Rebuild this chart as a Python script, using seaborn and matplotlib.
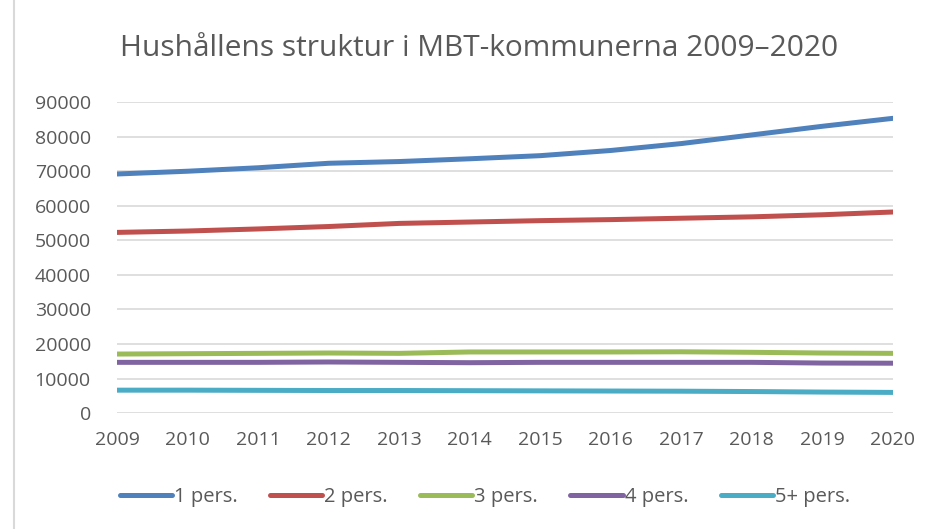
import pandas as pd
import seaborn as sns
import matplotlib.pyplot as plt
from matplotlib.patches import Rectangle

years = list(range(2009, 2021))
pers1 = [69200, 70000, 71000, 72300, 72800, 73600, 74500, 76000, 78000, 80500, 83000, 85300]
pers2 = [52300, 52700, 53300, 54000, 54900, 55300, 55700, 56000, 56400, 56800, 57400, 58200]
pers3 = [17100, 17200, 17300, 17400, 17300, 17700, 17700, 17700, 17750, 17600, 17400, 17300]
pers4 = [14700, 14700, 14700, 14800, 14700, 14600, 14700, 14700, 14700, 14700, 14500, 14450]
pers5 = [6650, 6650, 6600, 6550, 6550, 6500, 6450, 6400, 6350, 6250, 6100, 6000]
labels = ["1 pers.", "2 pers.", "3 pers.", "4 pers.", "5+ pers."]
colors = ["#4F81BD", "#C0504D", "#9BBB59", "#8064A2", "#4BACC6"]

frames = []
for lab, vals in zip(labels, [pers1, pers2, pers3, pers4, pers5]):
    frames.append(pd.DataFrame({"year": years, "value": vals, "group": lab}))
df = pd.concat(frames)

sns.set_style("white")
plt.rcParams['font.family'] = ['Open Sans', 'DejaVu Sans']
grey = "#595959"

fig = plt.figure(figsize=(9.3, 5.29), dpi=100)
ax = fig.add_axes([0.126, 0.219, 0.834, 0.588])
sns.lineplot(data=df, x="year", y="value", hue="group", palette=colors,
             linewidth=3.6, ax=ax, solid_capstyle="round")

ax.set_xlim(2009, 2020)
ax.set_ylim(0, 90000)
ax.set_yticks(range(0, 90001, 10000))
ax.set_xticks(years)
ax.grid(axis="y", color="#D9D9D9", linewidth=1.2)
ax.set_axisbelow(True)
for s in ax.spines.values():
    s.set_visible(False)
ax.tick_params(axis="both", colors=grey, labelsize=14, length=0)
ax.tick_params(axis="y", pad=19)
ax.tick_params(axis="x", pad=13)
ax.set_xlabel("")
ax.set_ylabel("")

fig.text(0.515, 0.909, "Hushållens struktur i MBT-kommunerna 2009–2020",
         ha="center", va="center", fontsize=21.5, color=grey)

ax.legend(loc="center", bbox_to_anchor=(0.474, -0.27), ncol=5, frameon=False,
          fontsize=14.5, labelcolor=grey, handlelength=2.6, handletextpad=0.1,
          columnspacing=1.6)

fig.patches.append(Rectangle((0.015, -0.01), 1.2, 1.2, transform=fig.transFigure,
                             fill=False, edgecolor="#D9D9D9", linewidth=1.5))

fig.savefig("out.png", dpi=100)
